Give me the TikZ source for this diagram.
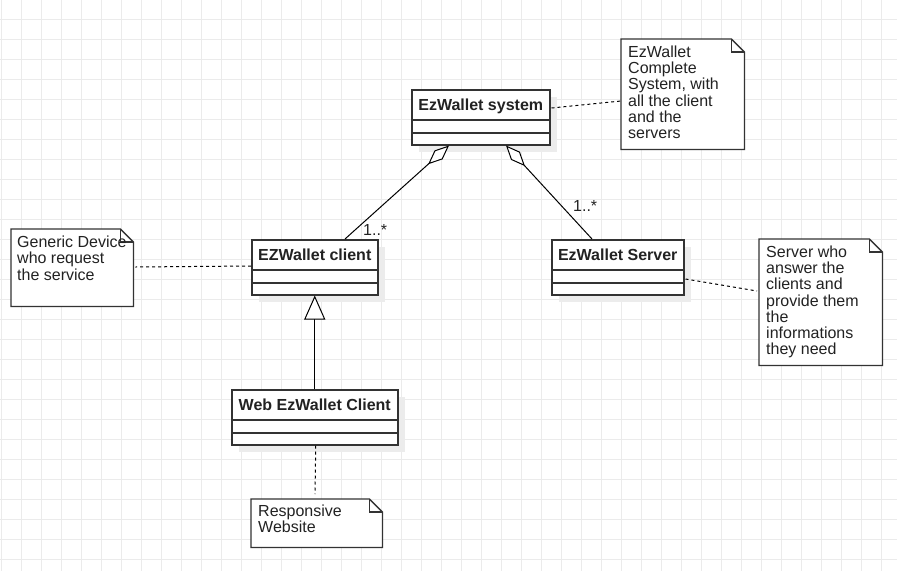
\documentclass[tikz,border=0pt]{standalone}
\usepackage{fontspec}
\setmainfont{Liberation Sans}
\usetikzlibrary{arrows.meta,calc}
\definecolor{gridc}{RGB}{235,235,235}
\definecolor{edge}{RGB}{51,51,51}
\definecolor{shadowc}{RGB}{236,236,236}
\definecolor{txt}{RGB}{34,34,34}
\newcommand{\umlclass}[5]{% name, left, top, width, label
  \fill[shadowc] (#2+8,#3+8) rectangle ++(#4,55);
  \node[classbox, minimum width=#4pt, anchor=north west] (#1) at (#2,#3) {};
  \draw[sepline] ($(#1.north west)+(0,31)$) -- ($(#1.north east)+(0,31)$);
  \draw[sepline] ($(#1.north west)+(0,44)$) -- ($(#1.north east)+(0,44)$);
  \node[classname] (#1-name) at ($(#1.north)+(0,21)$) {#5};
}
\newcommand{\umlnote}[5]{% name, left, top, width, height
  \node[inner sep=0pt, minimum width=#4pt, minimum height=#5pt, anchor=north west] (#1) at (#2,#3) {};
  \draw[noteline] (#1.north west) -- ($(#1.north east)+(-13,0)$) -- ($(#1.north east)+(0,13)$) -- (#1.south east) -- (#1.south west) -- cycle;
  \draw[noteline, fill=none] ($(#1.north east)+(-13,0)$) -- ++(0,13) -- ++(13,0);
}
\begin{document}
\begin{tikzpicture}[x=1pt,y=-1pt,
  classbox/.style={draw=edge, line width=1.5pt, fill=white, rectangle, inner sep=0pt, minimum height=55pt},
  sepline/.style={draw=edge, line width=1.5pt},
  classname/.style={anchor=base, inner sep=0pt, font=\bfseries\fontsize{16}{16}\selectfont, text=txt},
  noteline/.style={draw=edge, line width=1.3pt, fill=white, line join=miter},
  notetext/.style={anchor=base west, inner sep=0pt, align=left, text=txt, font=\fontsize{16}{16.1}\selectfont},
  multtext/.style={anchor=base west, inner sep=0pt, text=txt, font=\fontsize{16}{16}\selectfont},
  dotline/.style={draw=black, line width=1pt, dash pattern=on 3pt off 3pt},
  assoc/.style={draw=black, line width=1pt},
]
\useasboundingbox (0,0) rectangle (897,571);
\fill[white] (0,0) rectangle (897,571);
\foreach \x in {1,21,...,881} \draw[gridc, line width=1pt] (\x,0) -- (\x,571);
\foreach \y in {19,39,...,559} \draw[gridc, line width=1pt] (0,\y) -- (897,\y);

% classes
\umlclass{sys}{411}{89}{138}{EzWallet system}
\umlclass{client}{251}{239}{126}{EZWallet client}
\umlclass{server}{551}{239}{132}{EzWallet Server}
\umlclass{web}{231}{389}{166}{Web EzWallet Client}

% notes (text nodes anchored at the baseline of their last line)
\umlnote{n1}{621}{39}{123}{110}
\node[notetext] (n1-text) at (628,138.2) {EzWallet\\Complete\\System, with\\all the client\\and the\\servers};
\umlnote{n2}{11}{229}{122}{77}
\node[notetext] (n2-text) at (17,280) {Generic Device\\who request\\the service};
\umlnote{n3}{759}{239}{123}{126}
\node[notetext] (n3-text) at (766,354.3) {Server who\\answer the\\clients and\\provide them\\the\\informations\\they need};
\umlnote{n4}{251}{499}{131}{48}
\node[notetext] (n4-text) at (258,532.8) {Responsive\\Website};

% aggregations
\draw[assoc, {Diamond[length=28pt,width=12pt,fill=white,line width=1pt]}-]
  ($(sys.south west)+(38,0)$) -- ($(client.north west)+(94,0)$);
\draw[assoc, {Diamond[length=28pt,width=12pt,fill=white,line width=1pt]}-]
  ($(sys.south west)+(95,0)$) -- ($(server.north west)+(41,0)$);
\node[multtext] (m1) at (363,235) {1..*};
\node[multtext] (m2) at (573,211) {1..*};

% generalization
\draw[assoc, -{Triangle[length=24pt,width=21pt,fill=white,line width=1pt]}] (web.north) -- (client.south);

% note links
\draw[dotline] ($(sys.north east)+(1,19)$) -- ($(n1.north west)+(0,62)$);
\draw[dotline] ($(client.north west)+(0,27)$) -- ($(n2.north east)+(2,38)$);
\draw[dotline] ($(server.north east)+(1,40)$) -- ($(n3.north west)+(-2,52)$);
\draw[dotline] ($(web.south)+(1,0)$) -- ($(n4.north west)+(64,-5)$);
\end{tikzpicture}
\end{document}
